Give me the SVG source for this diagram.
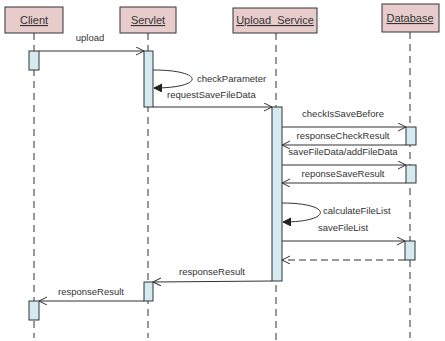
<svg xmlns="http://www.w3.org/2000/svg" width="445" height="341" viewBox="0 0 445 341">
<style>
.hdr{fill:#e8cccc;stroke:#333;stroke-width:1}
.ht{font-family:"Liberation Sans",Arial,sans-serif;font-size:11px;fill:#333;text-anchor:middle;text-decoration:underline}
.life{stroke:#333;stroke-width:1;stroke-dasharray:7,5;fill:none}
.act{fill:#d4eaf0;stroke:#333;stroke-width:1}
.msg{stroke:#333;stroke-width:1;fill:none}
.ret{stroke:#333;stroke-width:1;fill:none;stroke-dasharray:7,4}
.lbl{font-family:"Liberation Sans",Arial,sans-serif;font-size:9.5px;fill:#333;text-anchor:middle}
.lbs{font-family:"Liberation Sans",Arial,sans-serif;font-size:9.5px;fill:#333}
</style>
<defs>
<marker id="open" markerWidth="10" markerHeight="10" refX="8" refY="4" orient="auto" markerUnits="userSpaceOnUse">
<path d="M0,0 L8,4 L0,8" fill="none" stroke="#333" stroke-width="1"/>
</marker>
<marker id="fill" markerWidth="10" markerHeight="10" refX="8" refY="4" orient="auto" markerUnits="userSpaceOnUse">
<path d="M0,0 L8,4 L0,8 Z" fill="#222" stroke="#222"/>
</marker>
</defs>
<g id="client">
<line class="life" x1="34" y1="33" x2="34" y2="338"/>
<rect class="hdr" x="5" y="7" width="58" height="26"/>
<text class="ht" x="34" y="24">Client</text>
<rect class="act" x="29" y="51" width="10" height="19"/>
<rect class="act" x="29" y="301" width="10" height="19"/>
</g>
<g id="servlet">
<line class="life" x1="148" y1="33" x2="148" y2="338"/>
<rect class="hdr" x="120" y="7" width="56" height="26"/>
<text class="ht" x="148" y="24">Servlet</text>
<rect class="act" x="144" y="51" width="9" height="56"/>
<rect class="act" x="144" y="282" width="9" height="19"/>
</g>
<g id="upload_service">
<line class="life" x1="276" y1="33" x2="276" y2="340"/>
<rect class="hdr" x="233" y="8" width="84" height="25"/>
<text class="ht" x="275" y="24">Upload_Service</text>
<rect class="act" x="272" y="107" width="10" height="174"/>
</g>
<g id="database">
<line class="life" x1="410" y1="32" x2="410" y2="338"/>
<rect class="hdr" x="382" y="4" width="57" height="28"/>
<text class="ht" x="410" y="22">Database</text>
<rect class="act" x="406" y="127" width="10" height="18"/>
<rect class="act" x="406" y="165" width="10" height="18"/>
<rect class="act" x="405" y="241" width="10" height="19"/>
</g>
<g id="connectors">
<line class="msg" x1="39" y1="51" x2="144" y2="51" marker-end="url(#open)"/>
<text class="lbl" x="90" y="41">upload</text>
<path class="msg" d="M153,70 C205,70 205,88 154,88" marker-end="url(#fill)"/>
<text class="lbs" x="197" y="82">checkParameter</text>
<text class="lbs" x="167" y="98">requestSaveFileData</text>
<line class="msg" x1="153" y1="107" x2="272" y2="107" marker-end="url(#open)"/>
<line class="msg" x1="282" y1="127" x2="406" y2="127" marker-end="url(#open)"/>
<text class="lbl" x="343" y="117">checkIsSaveBefore</text>
<line class="msg" x1="406" y1="145" x2="282" y2="145" marker-end="url(#open)"/>
<text class="lbl" x="343" y="139">responseCheckResult</text>
<line class="msg" x1="282" y1="165" x2="406" y2="165" marker-end="url(#open)"/>
<text class="lbl" x="343" y="155">saveFileData/addFileData</text>
<line class="msg" x1="406" y1="183" x2="282" y2="183" marker-end="url(#open)"/>
<text class="lbl" x="343" y="177">reponseSaveResult</text>
<path class="msg" d="M282,203 C333,203 333,222 283,222" marker-end="url(#fill)"/>
<text class="lbs" x="323" y="214">calculateFileList</text>
<text class="lbl" x="343" y="231">saveFileList</text>
<line class="msg" x1="282" y1="241" x2="405" y2="241" marker-end="url(#open)"/>
<line class="ret" x1="405" y1="260" x2="282" y2="260" marker-end="url(#open)"/>
<line class="msg" x1="272" y1="281" x2="153" y2="282" marker-end="url(#open)"/>
<text class="lbl" x="212" y="275">responseResult</text>
<line class="msg" x1="144" y1="301" x2="39" y2="301" marker-end="url(#open)"/>
<text class="lbl" x="91" y="295">responseResult</text>
</g>
</svg>
